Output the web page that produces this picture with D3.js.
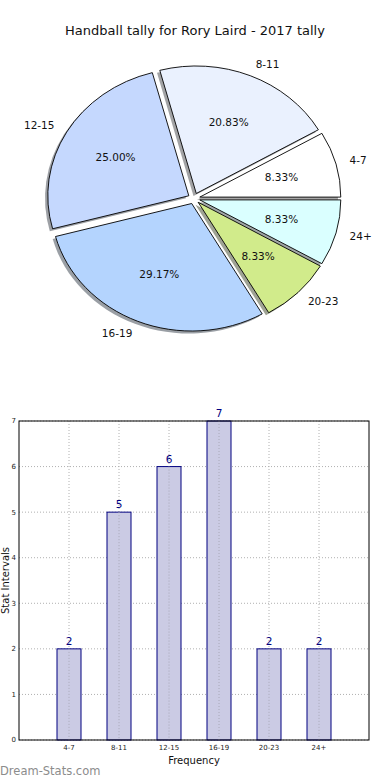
<!DOCTYPE html>
<html>
<head>
<meta charset="utf-8">
<script src="https://cdn.jsdelivr.net/npm/d3@7"></script>
<style>
  body { margin: 0; background: #fff; }
  svg { display: block; font-family: "DejaVu Sans", sans-serif; }
</style>
</head>
<body>
<svg id="chart" width="390" height="780"></svg>
<script>
// -- data -- //
const categories = ["4-7", "8-11", "12-15", "16-19", "20-23", "24+"];
const counts = [2, 5, 6, 7, 2, 2];
const sliceColors = ["#ffffff", "#eaf1fe", "#c5d8fe", "#b4d4fe", "#d1eb8b", "#daffff"];
const yTicks = [0, 1, 2, 3, 4, 5, 6, 7];
const title = "Handball tally for Rory Laird - 2017 tally";

const svg = d3.select("#chart");

// -- title -- //
svg.append("text")
    .attr("x", 195).attr("y", 35)
    .attr("text-anchor", "middle")
    .style("font-size", "13px")
    .style("fill", "#111")
    .text(title);

// -- pie chart (elliptical like the original) -- //
const cx = 194, cy = 198.5, rx = 141, ry = 127.5, explode = 6;
const sy = ry / rx;
const total = d3.sum(counts);

const pie = d3.pie().sort(null)
    .startAngle(Math.PI / 2)
    .endAngle(Math.PI / 2 - 2 * Math.PI);
const arcs = pie(counts);
const arc = d3.arc().innerRadius(0).outerRadius(rx);

const offset = d => {
    let a = (d.startAngle + d.endAngle) / 2;
    return [explode * Math.sin(a), -explode * Math.cos(a)];
};

const pieLayer = svg.append("g")
    .attr("transform", `translate(${cx},${cy}) scale(1,${sy})`);

// shadows first
pieLayer.selectAll(".shadow")
    .data(arcs)
    .enter().append("path")
    .attr("class", "shadow")
    .attr("d", arc)
    .attr("transform", d => {
        let o = offset(d);
        return `translate(${o[0] - 2.8},${o[1] + 2.8})`;
    })
    .style("fill", (d, i) => {
        let c = d3.rgb(sliceColors[i]);
        return d3.rgb(c.r * 0.3, c.g * 0.3, c.b * 0.3);
    })
    .style("opacity", 0.5);

pieLayer.selectAll(".slice")
    .data(arcs)
    .enter().append("path")
    .attr("class", "slice")
    .attr("d", arc)
    .attr("transform", d => {
        let o = offset(d);
        return `translate(${o[0]},${o[1]})`;
    })
    .style("fill", (d, i) => sliceColors[i])
    .style("stroke", "#000")
    .style("stroke-width", 0.9)
    .attr("vector-effect", "non-scaling-stroke");

const toScreen = (d, f) => {
    let a = (d.startAngle + d.endAngle) / 2;
    let o = offset(d);
    let x = o[0] + f * rx * Math.sin(a);
    let y = o[1] - f * rx * Math.cos(a);
    return [cx + x, cy + y * sy];
};

// percentages
svg.selectAll(".pct")
    .data(arcs)
    .enter().append("text")
    .attr("class", "pct")
    .attr("x", d => toScreen(d, 0.6)[0])
    .attr("y", d => toScreen(d, 0.6)[1])
    .attr("text-anchor", "middle")
    .attr("dy", "0.35em")
    .style("font-size", "10.5px")
    .style("fill", "#111")
    .text(d => (d.data / total * 100).toFixed(2) + "%");

// category labels
svg.selectAll(".plabel")
    .data(arcs)
    .enter().append("text")
    .attr("class", "plabel")
    .attr("x", d => toScreen(d, 1.1)[0])
    .attr("y", d => toScreen(d, 1.1)[1])
    .attr("text-anchor", d => toScreen(d, 1.1)[0] > cx ? "start" : "end")
    .attr("dy", "0.35em")
    .style("font-size", "10.5px")
    .style("fill", "#111")
    .text((d, i) => categories[i]);

// -- bar chart -- //
const plotLeft = 19, plotRight = 369, plotTop = 421, plotBottom = 740;
const xScale = d3.scaleLinear().domain([-1, 6]).range([plotLeft, plotRight]);
const yScale = d3.scaleLinear().domain([0, 7]).range([plotBottom, plotTop]);
const barW = xScale(0.48) - xScale(0);

const barLayer = svg.append("g");

// grid
barLayer.selectAll(".hgrid")
    .data(yTicks)
    .enter().append("line")
    .attr("x1", plotLeft).attr("x2", plotRight)
    .attr("y1", d => yScale(d)).attr("y2", d => yScale(d))
    .style("stroke", "#b0b0b0")
    .style("stroke-dasharray", "1,2");

barLayer.selectAll(".vgrid")
    .data(categories)
    .enter().append("line")
    .attr("x1", (d, i) => xScale(i)).attr("x2", (d, i) => xScale(i))
    .attr("y1", plotTop).attr("y2", plotBottom)
    .style("stroke", "#b0b0b0")
    .style("stroke-dasharray", "1,2");

// bars
barLayer.selectAll(".bar")
    .data(counts)
    .enter().append("rect")
    .attr("class", "bar")
    .attr("x", (d, i) => xScale(i) - barW / 2)
    .attr("y", d => yScale(d))
    .attr("width", barW)
    .attr("height", d => plotBottom - yScale(d))
    .style("fill", "#cbcbe4")
    .style("stroke", "#000080")
    .style("stroke-width", 1);

// gridlines show faintly through the bars
barLayer.selectAll(".vgrid2")
    .data(counts)
    .enter().append("line")
    .attr("x1", (d, i) => xScale(i)).attr("x2", (d, i) => xScale(i))
    .attr("y1", d => yScale(d)).attr("y2", plotBottom)
    .style("stroke", "#a8a8b8")
    .style("stroke-dasharray", "1,2");

// value labels
barLayer.selectAll(".val")
    .data(counts)
    .enter().append("text")
    .attr("x", (d, i) => xScale(i))
    .attr("y", d => yScale(d) - 4)
    .attr("text-anchor", "middle")
    .style("font-size", "10.5px")
    .style("fill", "#000080")
    .text(d => d);

// frame
barLayer.append("rect")
    .attr("x", plotLeft).attr("y", plotTop)
    .attr("width", plotRight - plotLeft).attr("height", plotBottom - plotTop)
    .style("fill", "none")
    .style("stroke", "#000")
    .style("stroke-width", 1);

// y axis labels
barLayer.selectAll(".ytick")
    .data(yTicks)
    .enter().append("text")
    .attr("x", plotLeft - 3)
    .attr("y", d => yScale(d))
    .attr("dy", "0.35em")
    .attr("text-anchor", "end")
    .style("font-size", "7px")
    .style("fill", "#222")
    .text(d => d);

// x axis labels
barLayer.selectAll(".xtick")
    .data(categories)
    .enter().append("text")
    .attr("x", (d, i) => xScale(i))
    .attr("y", plotBottom + 10)
    .attr("text-anchor", "middle")
    .style("font-size", "7px")
    .style("fill", "#222")
    .text(d => d);

svg.append("text")
    .attr("x", (plotLeft + plotRight) / 2)
    .attr("y", 764)
    .attr("text-anchor", "middle")
    .style("font-size", "10px")
    .style("fill", "#111")
    .text("Frequency");

svg.append("text")
    .attr("transform", `translate(9,${(plotTop + plotBottom) / 2}) rotate(-90)`)
    .attr("text-anchor", "middle")
    .style("font-size", "10px")
    .style("fill", "#111")
    .text("Stat Intervals");

// watermark
svg.append("text")
    .attr("x", 0).attr("y", 775)
    .style("font-size", "11.5px")
    .style("fill", "#8c8c8c")
    .text("Dream-Stats.com");
</script>
</body>
</html>
